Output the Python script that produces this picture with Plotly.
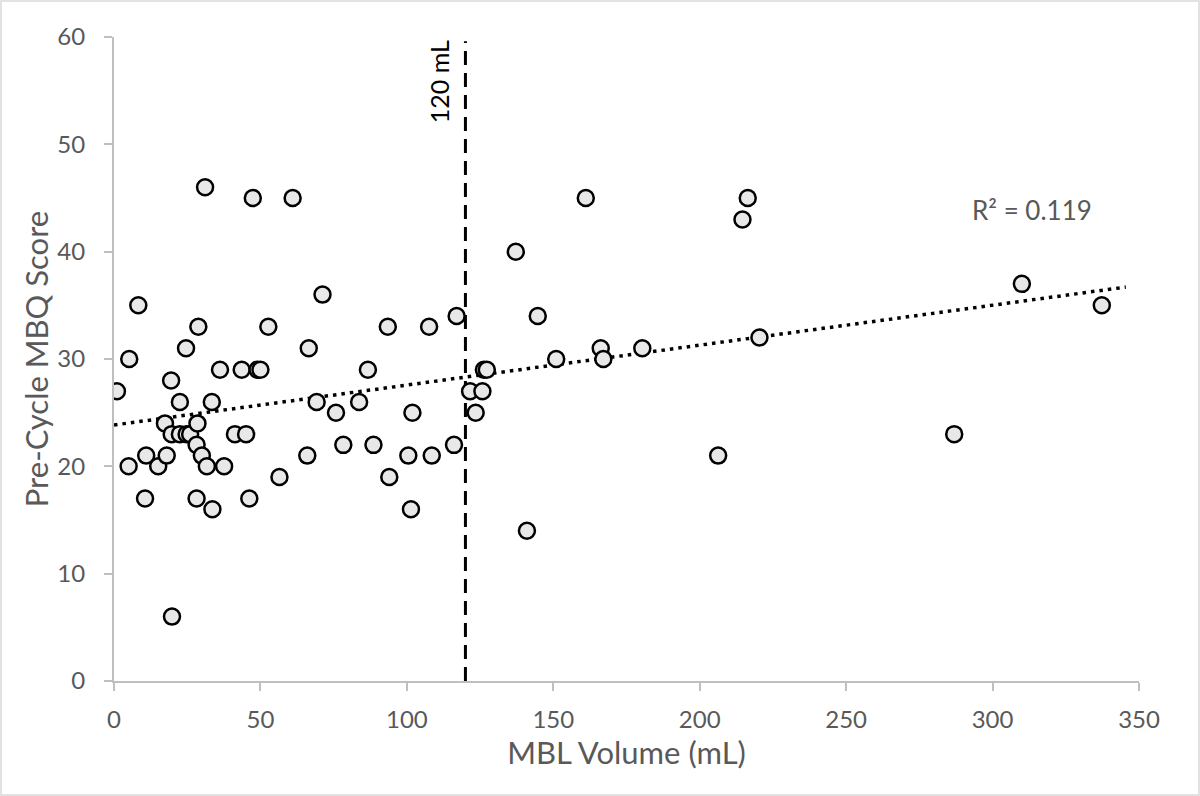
import numpy as np
import plotly.graph_objects as go

mbl_volume = [1, 5, 5.2, 8.3, 10.6, 11, 15.1, 17.4, 18, 19.5, 19.8, 19.7, 22.5, 22.5, 24.6, 24.8, 26,
              28.5, 28.2, 28.2, 28.8, 30, 31.1, 31.7, 33.4, 33.6, 36.2, 37.6, 41.3, 43.6, 45.1, 46.2,
              47.4, 49, 50, 52.7, 56.5, 61, 66, 66.5, 69.2, 71.2, 75.8, 78.3, 83.7, 86.7, 88.6, 93.5,
              94, 100.5, 101.4, 101.9, 107.6, 108.5, 116.1, 117, 121.6, 123.5, 125.8, 126.3, 127.3,
              137.2, 141, 144.7, 151, 161.1, 166.2, 167.1, 180.4, 206.3, 214.6, 216.4, 220.4, 286.9,
              310, 337.3]
mbq_score = [27, 20, 30, 35, 17, 21, 20, 24, 21, 28, 6, 23, 26, 23, 31, 23, 23,
             24, 22, 17, 33, 21, 46, 20, 26, 16, 29, 20, 23, 29, 23, 17,
             45, 29, 29, 33, 19, 45, 21, 31, 26, 36, 25, 22, 26, 29, 22, 33,
             19, 21, 16, 25, 33, 21, 22, 34, 27, 25, 27, 29, 29,
             40, 14, 34, 30, 45, 31, 30, 31, 21, 43, 45, 32, 23,
             37, 35]

threshold_ml = 120
threshold_label = "120 mL"
r2_label = "R² = 0.119"
trend_x = [0, 345.5]
trend_intercept = 23.85
trend_slope = 0.0372

x_label = "MBL Volume (mL)"
y_label = "Pre-Cycle MBQ Score"

FONT = "Lato, 'Open Sans', sans-serif"
GRAY = "#595959"

trend_y = [trend_intercept + trend_slope * v for v in trend_x]

fig = go.Figure()

fig.add_trace(go.Scatter(
    x=[threshold_ml, threshold_ml], y=[0, 59.6], mode="lines",
    line=dict(color="black", width=3, dash="14px,8px"),
    hoverinfo="skip", showlegend=False))

fig.add_trace(go.Scatter(
    x=trend_x, y=trend_y, mode="lines",
    line=dict(color="black", width=3.5, dash="3.5px,5px"),
    hoverinfo="skip", showlegend=False))

fig.add_trace(go.Scatter(
    x=mbl_volume, y=mbq_score, mode="markers",
    marker=dict(symbol="circle", size=16, color="#E8E8E8",
                line=dict(color="black", width=2.5)),
    showlegend=False))

fig.add_annotation(x=111.0, y=55.8, text=threshold_label, textangle=-90,
                   showarrow=False, font=dict(family=FONT, size=25, color="black"))
fig.add_annotation(x=313.5, y=43.9, text=r2_label, showarrow=False,
                   font=dict(family=FONT, size=26, color=GRAY))

# chart border
fig.add_shape(type="rect", xref="paper", yref="paper",
              x0=(1 - 114) / 1025, x1=(1199 - 114) / 1025,
              y0=(681 - 795) / 644, y1=(681 - 1) / 644,
              line=dict(color="#D9D9D9", width=1.5), fillcolor="rgba(0,0,0,0)", layer="below")

axis_common = dict(
    showgrid=False, zeroline=False, showline=True, linecolor="#BFBFBF", linewidth=2,
    ticks="outside", ticklen=8, tickwidth=1.5, tickcolor="#BFBFBF",
    tickfont=dict(family=FONT, size=24, color=GRAY),
)

fig.update_layout(
    width=1200, height=796,
    margin=dict(l=114, r=61, t=37, b=115),
    paper_bgcolor="white", plot_bgcolor="white",
    xaxis=dict(range=[0, 350], dtick=50, tick0=0, ticklabelstandoff=8,
               title=dict(text=x_label, font=dict(family=FONT, size=31, color=GRAY), standoff=2),
               **axis_common),
    yaxis=dict(range=[0, 60], dtick=10, tick0=0, ticklabelstandoff=14,
               title=dict(text=y_label, font=dict(family=FONT, size=31, color=GRAY), standoff=0),
               **axis_common),
    font=dict(family=FONT),
)

fig.write_html("out.html")
